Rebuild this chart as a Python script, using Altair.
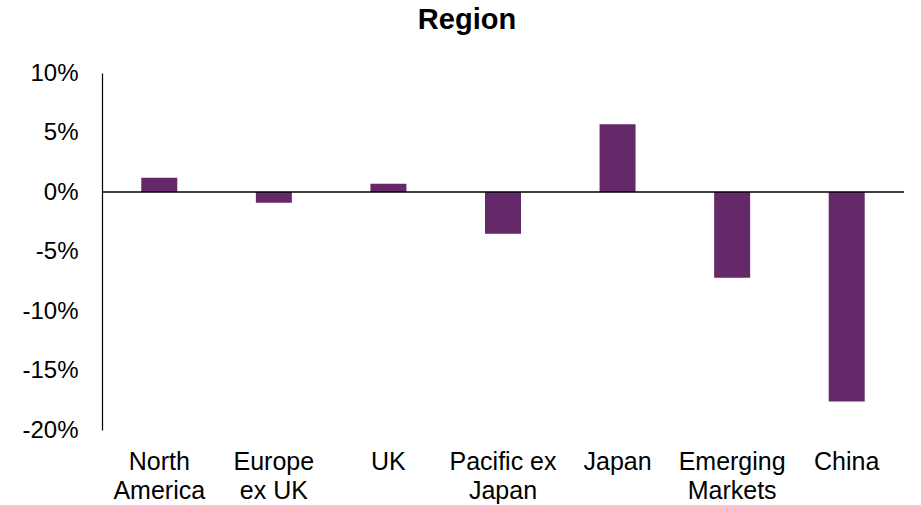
import altair as alt
import pandas as pd

# Relative returns by region (%)
regions = ["North America", "Europe ex UK", "UK", "Pacific ex Japan",
           "Japan", "Emerging Markets", "China"]
axis_labels = ["North\nAmerica", "Europe\nex UK", "UK", "Pacific ex\nJapan",
               "Japan", "Emerging\nMarkets", "China"]
returns = [1.2, -0.9, 0.7, -3.5, 5.7, -7.2, -17.6]
y_ticks = [-20, -15, -10, -5, 0, 5, 10]

df = pd.DataFrame({"region": regions, "label": axis_labels, "value": returns})

FONT = "Liberation Sans"
BAR = "#652868"

x = alt.X(
    "label:N",
    sort=axis_labels,
    scale=alt.Scale(paddingInner=0, paddingOuter=0),
    axis=alt.Axis(
        title=None, domain=False, ticks=False, labelAngle=0,
        labelPadding=19, labelFont=FONT, labelFontSize=25,
        labelColor="#000000", labelLineHeight=29, labelBaseline="top",
        labelExpr="split(datum.label, '\\n')",
    ),
)
y = alt.Y(
    "value:Q",
    scale=alt.Scale(domain=[-20, 10], nice=False, zero=False),
    axis=alt.Axis(
        title=None, values=y_ticks, grid=False, ticks=False,
        domain=True, domainColor="#000000", domainWidth=1.2,
        labelPadding=24, labelFont=FONT, labelFontSize=24,
        labelColor="#000000", labelExpr="datum.value + '%'",
    ),
)

bars = alt.Chart(df).mark_bar(width=36, color=BAR).encode(x=x, y=y)

zero = alt.Chart(pd.DataFrame({"v": [0]})).mark_rule(
    color="#000000", strokeWidth=1.5
).encode(y=alt.Y("v:Q"))

chart = (
    alt.layer(bars, zero)
    .properties(
        width=802, height=357,
        title=alt.TitleParams(
            "Region", font=FONT, fontSize=29, fontWeight="bold",
            color="#000000", anchor="middle", dx=-36, offset=26,
        ),
        autosize=alt.AutoSizeParams(type="none"),
        padding={"left": 102, "top": 73, "right": 17, "bottom": 75},
    )
    .configure(background="#ffffff", view=alt.ViewConfig(stroke=None))
)

chart.save("out.html", embed_options={"renderer": "svg", "actions": False})
